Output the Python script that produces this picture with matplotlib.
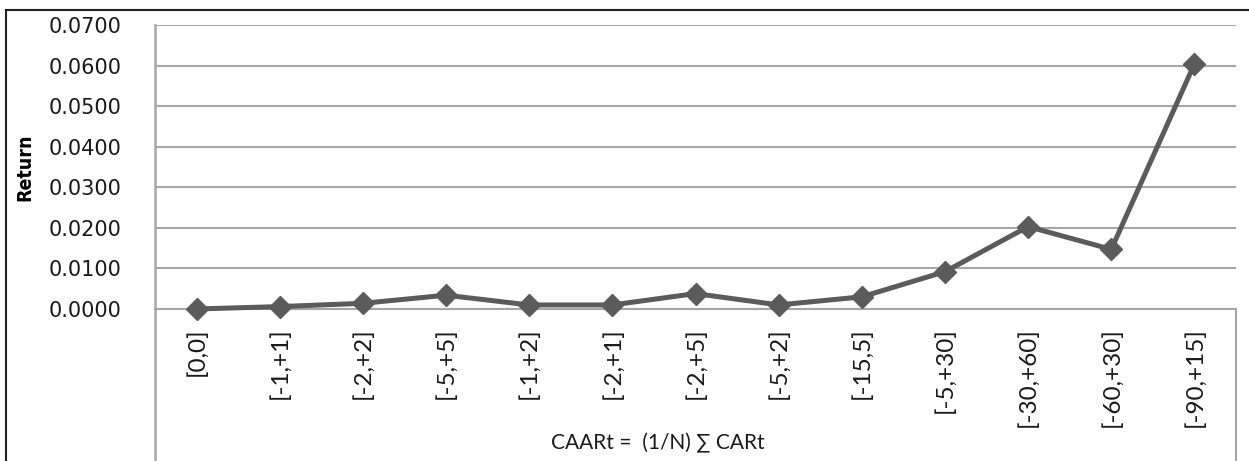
import matplotlib
matplotlib.use("Agg")
import matplotlib.pyplot as plt
from matplotlib.lines import Line2D

categories = ["[0,0]", "[-1,+1]", "[-2,+2]", "[-5,+5]", "[-1,+2]", "[-2,+1]",
              "[-2,+5]", "[-5,+2]", "[-15,5]", "[-5,+30]", "[-30,+60]", "[-60,+30]", "[-90,+15]"]
caar = [0.0000, 0.0006, 0.0014, 0.0034, 0.0010, 0.0010,
        0.0038, 0.0010, 0.0030, 0.0092, 0.0203, 0.0147, 0.0604]
yticks = [0.0, 0.01, 0.02, 0.03, 0.04, 0.05, 0.06, 0.07]

W, H = 1249, 461
fig = plt.figure(figsize=(W / 100, H / 100), dpi=100)
fig.patch.set_facecolor("white")

x0, x1 = 155, 1236
ytop, ybot = 25, 309
ax = fig.add_axes([x0 / W, 1 - ybot / H, (x1 - x0) / W, (ybot - ytop) / H])
ax.set_facecolor("white")

xs = list(range(len(categories)))
ax.plot(xs, caar, color="#5b5b5b", lw=3.6, marker="D", markersize=11,
        markerfacecolor="#5b5b5b", markeredgecolor="#5b5b5b", zorder=3, clip_on=False)

ax.set_xlim(-0.5, len(categories) - 0.5)
ax.set_ylim(0, 0.07)
ax.set_yticks(yticks)
ax.set_yticklabels([f"{v:.4f}" for v in yticks], fontsize=15, family="DejaVu Sans", color="#1a1a1a")
ax.set_xticks(xs)
ax.set_xticklabels(categories, rotation=90, fontsize=17.5, family=["Lato", "DejaVu Sans"], color="#1a1a1a", va="top")
ax.tick_params(axis="y", length=0, pad=24)
ax.tick_params(axis="x", length=0, pad=13)

ax.grid(axis="y", color="#a6a6a6", lw=1.5)
ax.set_axisbelow(True)
for s in ["top", "right"]:
    ax.spines[s].set_visible(False)
ax.spines["left"].set_color("#a6a6a6")
ax.spines["left"].set_linewidth(1.8)
ax.spines["bottom"].set_color("#a6a6a6")
ax.spines["bottom"].set_linewidth(1.5)

ax.set_ylabel("Return", fontsize=14, fontweight="bold", fontstretch="condensed",
              family=["DejaVu Sans"], labelpad=10)

# Lower part of plot-area frame (below category axis)
fig.add_artist(Line2D([x0 / W, x0 / W], [0, 1 - ybot / H], transform=fig.transFigure,
                      color="#a6a6a6", lw=1.8))
fig.add_artist(Line2D([x1 / W, x1 / W], [0, 1 - ybot / H], transform=fig.transFigure,
                      color="#a6a6a6", lw=1.5))

# Outer chart-area frame
fig.add_artist(Line2D([6 / W, 6 / W], [0, 1 - 10 / H], transform=fig.transFigure, color="#222222", lw=1.5))
fig.add_artist(Line2D([6 / W, 1], [1 - 10 / H, 1 - 10 / H], transform=fig.transFigure, color="#222222", lw=1.5))

fig.text(658 / W, 1 - 443 / H, "CAARt =  (1/N) \u2211 CARt", ha="center", va="center",
         fontsize=15, family=["Lato", "DejaVu Sans"], color="#1a1a1a")

fig.savefig("out.png", dpi=100, facecolor="white")
